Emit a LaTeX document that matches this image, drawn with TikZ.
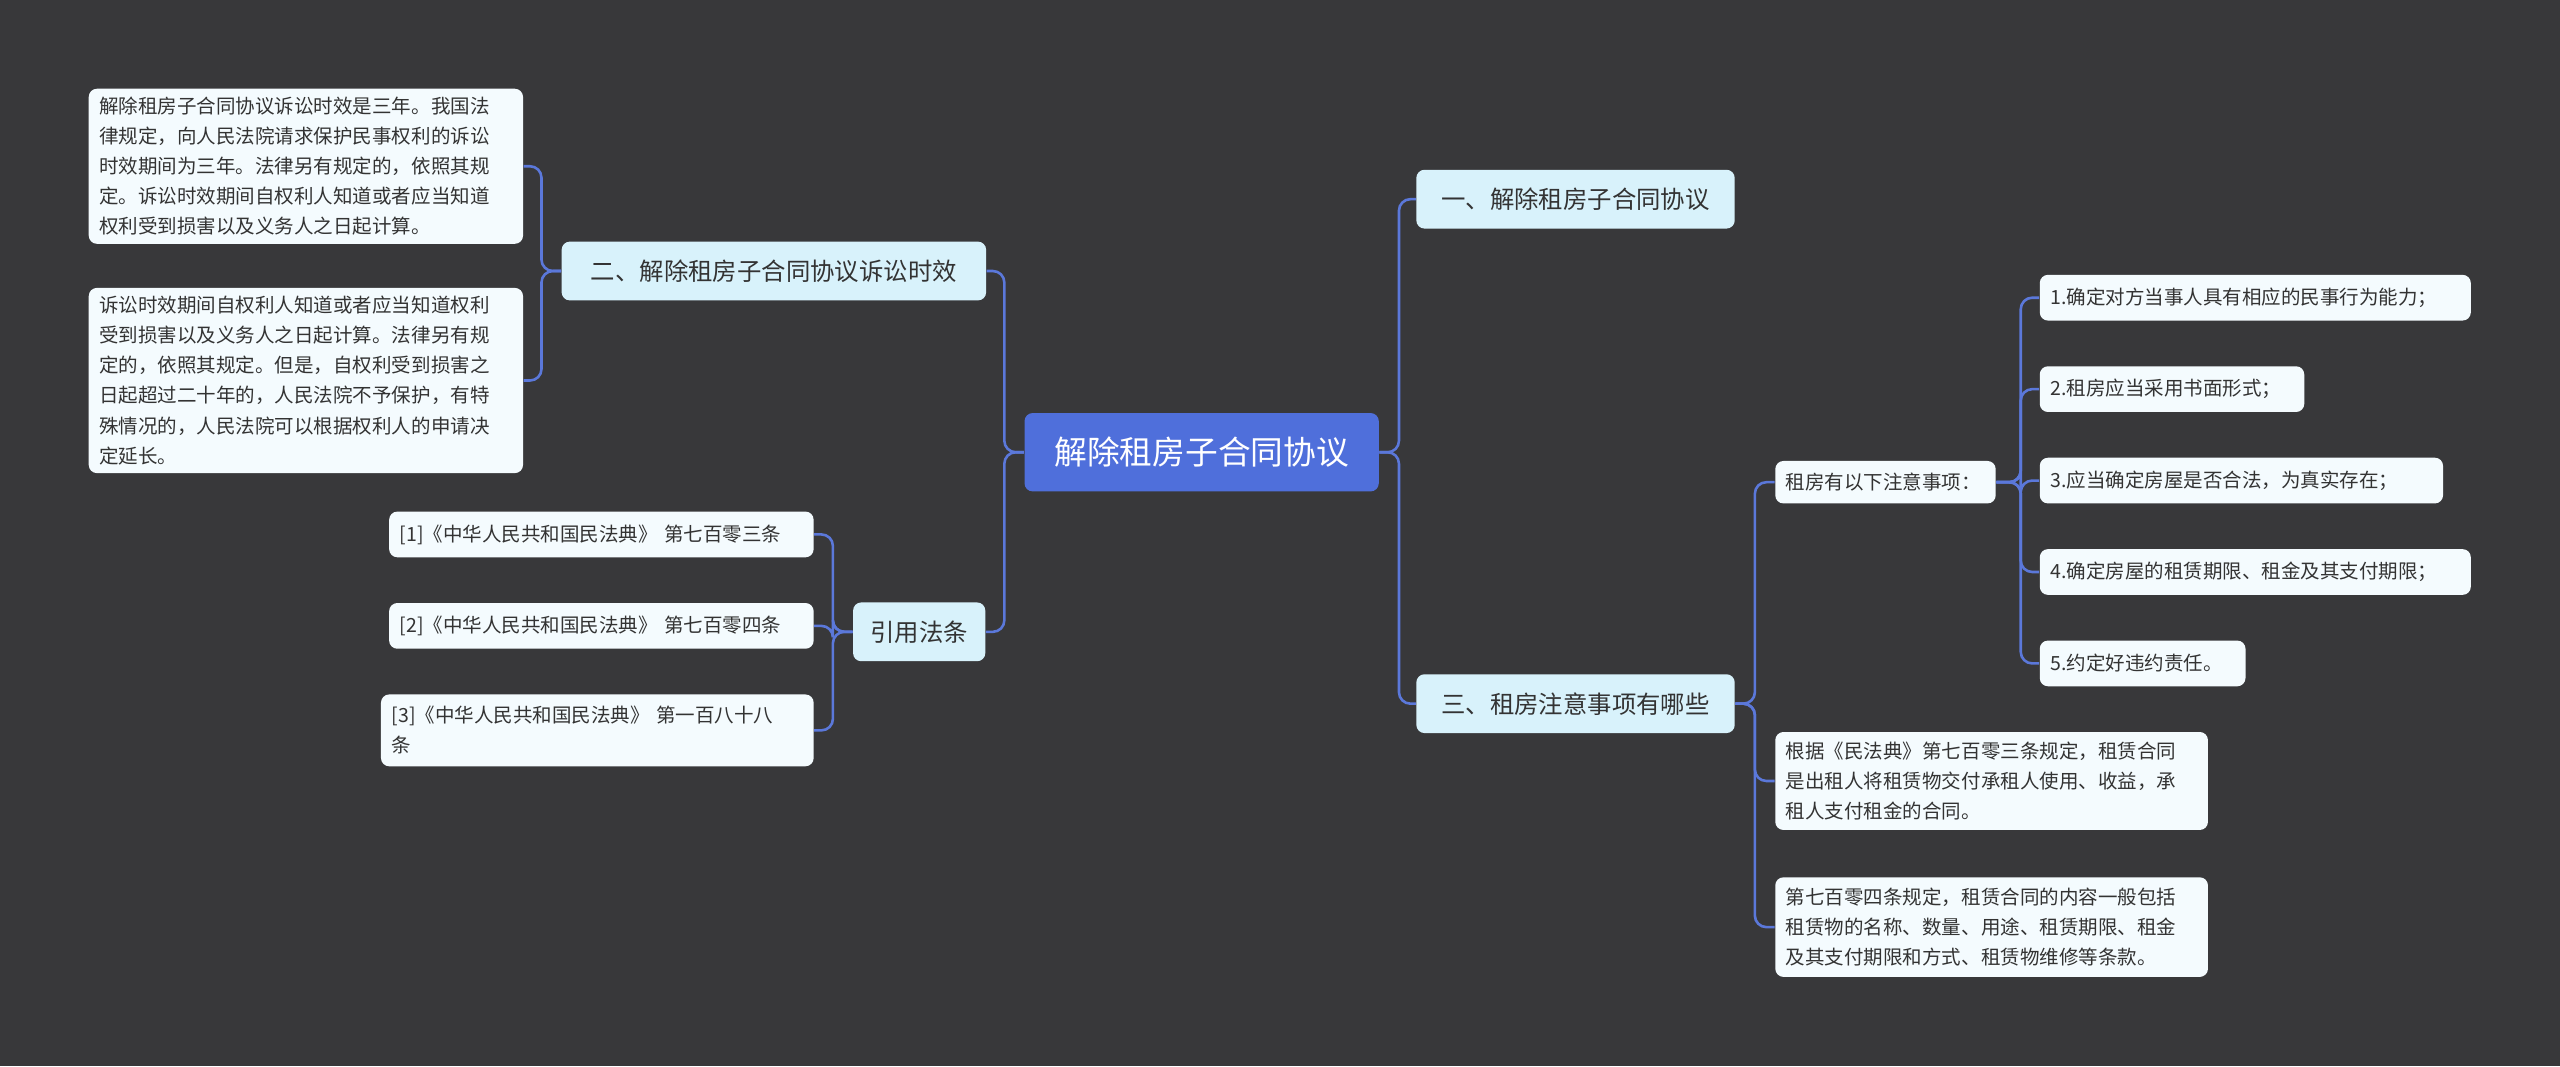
\documentclass[tikz,border=0pt]{standalone}
\usepackage{fontspec}
\setmainfont{Noto Sans CJK SC}
\definecolor{bgcol}{HTML}{38383A}
\definecolor{rootcol}{HTML}{4F6FDB}
\definecolor{topiccol}{HTML}{D8F2FB}
\definecolor{leafcol}{HTML}{F4FBFE}
\definecolor{linkcol}{HTML}{5B78DA}
\definecolor{txtcol}{HTML}{333333}
\tikzset{
  rootbox/.style={fill=rootcol,text=white,rounded corners=.1cm,minimum width=4.34cm,minimum height=.96cm,font=\fontsize{11.4}{14}\selectfont},
  topicbox/.style={fill=topiccol,text=txtcol,rounded corners=.1cm,minimum height=.72cm,font=\fontsize{8.5}{11}\selectfont},
  leafbox/.style={fill=leafcol,text=txtcol,rounded corners=.1cm,anchor=north west,align=left,inner xsep=.13cm,inner ysep=.1cm,font=\fontsize{6.8}{10.5}\selectfont},
  link/.style={draw=linkcol,line width=.9pt,rounded corners=.14cm}
}
\begin{document}
\begin{tikzpicture}
  \fill[bgcol] (0,0) rectangle (31.36,-13.06);
  \useasboundingbox (0,0) rectangle (31.36,-13.06);

  % centre and main topics
  \node[rootbox] (root) at (14.72,-5.54) {解除租房子合同协议};
  \node[topicbox,minimum width=3.9cm] (t1) at (19.30,-2.44) {一、解除租房子合同协议};
  \node[topicbox,minimum width=3.9cm] (t3) at (19.30,-8.62) {三、租房注意事项有哪些};
  \node[topicbox,minimum width=5.2cm] (t2) at (9.48,-3.32) {二、解除租房子合同协议诉讼时效};
  \node[topicbox,minimum width=1.62cm] (law) at (11.26,-7.74) {引用法条};

  % left leaves
  \node[leafbox,text width=5.06cm,minimum height=1.88cm] (l1) at (1.08,-1.08) {解除租房子合同协议诉讼时效是三年。我国法\\律规定，向人民法院请求保护民事权利的诉讼\\时效期间为三年。法律另有规定的，依照其规\\定。诉讼时效期间自权利人知道或者应当知道\\权利受到损害以及义务人之日起计算。};
  \node[leafbox,text width=5.06cm,minimum height=2.18cm] (l2) at (1.08,-3.52) {诉讼时效期间自权利人知道或者应当知道权利\\受到损害以及义务人之日起计算。法律另有规\\定的，依照其规定。但是，自权利受到损害之\\日起超过二十年的，人民法院不予保护，有特\\殊情况的，人民法院可以根据权利人的申请决\\定延长。};
  \node[leafbox,text width=4.94cm,minimum height=.56cm] (c1) at (4.76,-6.26) {[1]《中华人民共和国民法典》 第七百零三条};
  \node[leafbox,text width=4.94cm,minimum height=.56cm] (c2) at (4.76,-7.38) {[2]《中华人民共和国民法典》 第七百零四条};
  \node[leafbox,text width=5.04cm,minimum height=.88cm] (c3) at (4.66,-8.50) {[3]《中华人民共和国民法典》 第一百八十八\\条};

  % right leaves
  \node[leafbox,text width=2.44cm,minimum height=.52cm] (r0) at (21.74,-5.64) {租房有以下注意事项：};
  \node[leafbox,text width=5.02cm,minimum height=.56cm] (n1) at (24.98,-3.36) {1.确定对方当事人具有相应的民事行为能力；};
  \node[leafbox,text width=2.98cm,minimum height=.56cm] (n2) at (24.98,-4.48) {2.租房应当采用书面形式；};
  \node[leafbox,text width=4.68cm,minimum height=.56cm] (n3) at (24.98,-5.60) {3.应当确定房屋是否合法，为真实存在；};
  \node[leafbox,text width=5.02cm,minimum height=.56cm] (n4) at (24.98,-6.72) {4.确定房屋的租赁期限、租金及其支付期限；};
  \node[leafbox,text width=2.26cm,minimum height=.56cm] (n5) at (24.98,-7.84) {5.约定好违约责任。};
  \node[leafbox,text width=5.04cm,minimum height=1.2cm] (r1) at (21.74,-8.96) {根据《民法典》第七百零三条规定，租赁合同\\是出租人将租赁物交付承租人使用、收益，承\\租人支付租金的合同。};
  \node[leafbox,text width=5.04cm,minimum height=1.22cm] (r2) at (21.74,-10.74) {第七百零四条规定，租赁合同的内容一般包括\\租赁物的名称、数量、用途、租赁期限、租金\\及其支付期限和方式、租赁物维修等条款。};

  % connectors
  \foreach \c in {t1,t3} \draw[link] (root.east) -- ++(.24,0) |- (\c.west);
  \foreach \c in {t2,law} \draw[link] (root.west) -- ++(-.24,0) |- (\c.east);
  \foreach \c in {l1,l2} \draw[link] (t2.west) -- ++(-.24,0) |- (\c.east);
  \foreach \c in {c1,c2,c3} \draw[link] (law.west) -- ++(-.24,0) |- (\c.east);
  \foreach \c in {r0,r1,r2} \draw[link] (t3.east) -- ++(.24,0) |- (\c.west);
  \foreach \c in {n1,n2,n3,n4,n5} \draw[link] (r0.east) -- ++(.3,0) |- (\c.west);
\end{tikzpicture}
\end{document}
